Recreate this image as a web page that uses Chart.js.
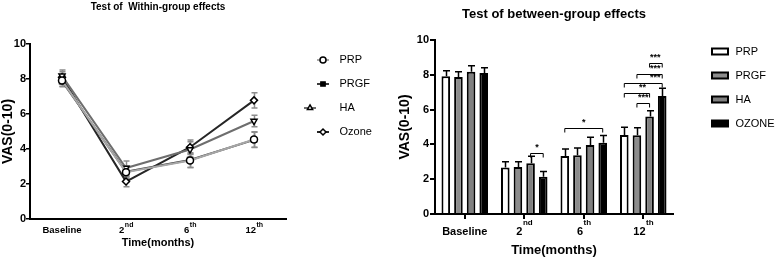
<!DOCTYPE html>
<html>
<head>
<meta charset="utf-8">
<script src="https://cdn.jsdelivr.net/npm/chart.js@4.4.1/dist/chart.umd.min.js"></script>
<style>
  html, body { margin: 0; padding: 0; background: #fff; overflow: hidden; width: 778px; height: 261px; }
  #left { position: absolute; left: 0; top: 0; }
  #right { position: absolute; left: 338px; top: 0; }
</style>
</head>
<body>
<canvas id="left" width="385" height="261"></canvas>
<canvas id="right" width="440" height="261"></canvas>
<script>
// datos
const categories = ['Baseline', '2', '6', '12'];
const catSup = ['', 'nd', 'th', 'th'];
const lineNames = ['PRP', 'PRGF', 'HA', 'Ozone'];
const barNames = ['PRP', 'PRGF', 'HA', 'OZONE'];

const prp = [7.91, 2.67, 3.34, 4.54];
const prgf = [7.87, 2.70, 3.37, 4.52];
const ha = [8.18, 2.91, 3.97, 5.60];
const ozone = [8.10, 2.14, 4.10, 6.78];

const prpErr = [0.32, 0.34, 0.39, 0.44];
const prgfErr = [0.31, 0.30, 0.42, 0.44];
const haErr = [0.34, 0.41, 0.44, 0.33];
const ozoneErr = [0.31, 0.30, 0.41, 0.44];

const yTicks = [0, 2, 4, 6, 8, 10];

// [categoria, desde serie, hasta serie, altura, texto, posicion del texto]
const sigBrackets = [
  [1, 2, 3, 3.52, '*', 'center'],
  [2, 0, 3, 4.92, '*', 'center'],
  [3, 1, 2, 6.40, '***', 'center'],
  [3, 0, 2, 6.94, '**', 'end'],
  [3, 0, 3, 7.51, '***', 'end'],
  [3, 1, 3, 8.05, '***', 'end'],
  [3, 2, 3, 8.66, '***', 'end']
];

const series = [prp, prgf, ha, ozone];
const seriesErr = [prpErr, prgfErr, haErr, ozoneErr];
const labels = categories.map((c, i) => c + catSup[i]);

const FONT = "'Liberation Sans', Arial, sans-serif";

// estilos
const lineColors = ['#a6a6a6', '#3c3c3c', '#6e6e6e', '#262626'];
const pointStyles = ['circle', 'rect', 'triangle', 'rectRot'];
const pointRot = [0, 0, 180, 0];
const pointFills = ['#fff', '#000', '#fff', '#fff'];
const barFills = ['#ffffff', '#8c8c8c', '#808080', '#000000'];

// ---------------------------
// plugins (config por closure)
// ---------------------------
function makeErrorBars(cfg) {
  function draw(chart) {
    const ctx = chart.ctx;
    const ys = chart.scales.y;
    ctx.save();
    ctx.strokeStyle = cfg.color;
    ctx.lineWidth = cfg.lineWidth;
    chart.data.datasets.forEach((ds, di) => {
      const meta = chart.getDatasetMeta(di);
      ds.data.forEach((v, i) => {
        const px = Math.round(meta.data[i].x) + 0.5;
        const top = ys.getPixelForValue(v + ds.errors[i]);
        const bot = ys.getPixelForValue(cfg.both ? v - ds.errors[i] : v);
        ctx.beginPath();
        ctx.moveTo(px, top);
        ctx.lineTo(px, bot);
        ctx.moveTo(px - cfg.cap, top);
        ctx.lineTo(px + cfg.cap, top);
        if (cfg.both) {
          ctx.moveTo(px - cfg.cap, bot);
          ctx.lineTo(px + cfg.cap, bot);
        }
        ctx.stroke();
      });
    });
    ctx.restore();
  }
  return {
    id: 'errorBars',
    beforeDatasetsDraw(chart) { if (cfg.under) draw(chart); },
    afterDatasetsDraw(chart) { if (!cfg.under) draw(chart); }
  };
}

// etiquetas del eje x con superindice (2nd, 6th, 12th)
function makeCatLabels(cfg) {
  return {
    id: 'catLabels',
    afterDraw(chart) {
      const ctx = chart.ctx;
      const xs = chart.scales.x;
      const mainFont = `bold ${cfg.size}px ${FONT}`;
      const supFont = `bold ${cfg.supSize}px ${FONT}`;
      ctx.save();
      ctx.fillStyle = '#000';
      ctx.textBaseline = 'alphabetic';
      ctx.textAlign = 'left';
      categories.forEach((c, i) => {
        const x = xs.getPixelForValue(i);
        ctx.font = mainFont;
        const w1 = ctx.measureText(c).width;
        ctx.font = supFont;
        const w2 = ctx.measureText(catSup[i]).width;
        const x0 = x - (w1 + w2) / 2;
        const y = xs.top + cfg.dy;
        ctx.font = mainFont;
        ctx.fillText(c, x0, y);
        ctx.font = supFont;
        ctx.fillText(catSup[i], x0 + w1 + 0.5, y - cfg.raise);
      });
      ctx.restore();
    }
  };
}

function makeBrackets(cfg) {
  return {
    id: 'brackets',
    afterDatasetsDraw(chart) {
      const ctx = chart.ctx;
      const ys = chart.scales.y;
      ctx.save();
      ctx.strokeStyle = '#000';
      ctx.fillStyle = '#000';
      ctx.lineWidth = 1;
      ctx.font = `bold ${cfg.size}px ${FONT}`;
      ctx.textAlign = 'center';
      ctx.textBaseline = 'bottom';
      sigBrackets.forEach(([cat, a, b, v, txt, where]) => {
        const x1 = chart.getDatasetMeta(a).data[cat].x;
        const x2 = chart.getDatasetMeta(b).data[cat].x;
        const py = Math.round(ys.getPixelForValue(v)) + 0.5;
        ctx.beginPath();
        ctx.moveTo(x1, py + cfg.tick);
        ctx.lineTo(x1, py);
        ctx.lineTo(x2, py);
        ctx.lineTo(x2, py + cfg.tick);
        ctx.stroke();
        const tx = where === 'end' ? x2 - 7 : (x1 + x2) / 2;
        ctx.fillText(txt, tx, py - 1);
      });
      ctx.restore();
    }
  };
}

// iconos de leyenda
function lineIcon(i) {
  const c = document.createElement('canvas');
  c.width = 35; c.height = 12;
  const g = c.getContext('2d');
  g.strokeStyle = lineColors[i];
  g.lineWidth = 2;
  g.beginPath(); g.moveTo(18, 6); g.lineTo(30, 6); g.stroke();
  g.strokeStyle = '#000';
  g.fillStyle = pointFills[i];
  g.lineWidth = 1.5;
  Chart.helpers.drawPoint(g, { pointStyle: pointStyles[i], rotation: pointRot[i], radius: 3, borderWidth: 1.5 }, 24, 6);
  return c;
}

function barIcon(i) {
  const c = document.createElement('canvas');
  c.width = 44; c.height = 10;
  const g = c.getContext('2d');
  g.fillStyle = barFills[i];
  g.strokeStyle = '#000';
  g.lineWidth = 2;
  g.fillRect(26, 2, 16, 6);
  g.strokeRect(26, 2, 16, 6);
  return c;
}

const lineIcons = lineNames.map((n, i) => lineIcon(i));
const barIcons = barNames.map((n, i) => barIcon(i));
const defaultLabels = Chart.defaults.plugins.legend.labels.generateLabels;

// ---------------------------
// GRAFICA IZQUIERDA (lineas)
// ---------------------------
new Chart(document.getElementById('left'), {
  type: 'line',
  data: {
    labels: labels,
    datasets: lineNames.map((n, i) => ({
      label: n,
      data: series[i],
      errors: seriesErr[i],
      borderColor: lineColors[i],
      borderWidth: 2,
      pointStyle: pointStyles[i],
      rotation: pointRot[i],
      pointRadius: 3.5,
      pointBackgroundColor: pointFills[i],
      pointBorderColor: '#000',
      pointBorderWidth: 1.5,
      tension: 0
    }))
  },
  options: {
    responsive: false,
    animation: false,
    devicePixelRatio: 1,
    layout: { padding: { right: 9 } },
    plugins: {
      title: {
        display: true, text: 'Test of  Within-group effects', fullSize: false, color: '#000',
        font: { family: FONT, size: 10, weight: 'bold' }, padding: { top: 1, bottom: 31 }
      },
      legend: {
        position: 'right', align: 'start', maxWidth: 90,
        title: { display: true, text: '', font: { size: 10 }, padding: { top: 29.5, bottom: 0 } },
        labels: {
          usePointStyle: true, pointStyleWidth: 35, boxHeight: 10, padding: 13, color: '#000',
          font: { family: FONT, size: 11 },
          generateLabels: (chart) => defaultLabels(chart).map((it, i) => ({ ...it, pointStyle: lineIcons[i] }))
        }
      },
      tooltip: { enabled: false }
    },
    scales: {
      x: {
        offset: true,
        grid: { display: false },
        border: { color: '#000', width: 2 },
        ticks: { display: false },
        title: {
          display: true, text: 'Time(months)', color: '#000',
          font: { family: FONT, size: 11, weight: 'bold' }, padding: { top: 0, bottom: 11 }
        },
        afterFit: (s) => { s.height = 42; }
      },
      y: {
        min: 0, max: 10,
        afterBuildTicks: (s) => { s.ticks = yTicks.map(v => ({ value: v })); },
        ticks: { color: '#000', padding: 0, font: { family: FONT, size: 11, weight: 'bold' } },
        grid: { drawOnChartArea: false, tickLength: 4, color: '#000', lineWidth: 1.5 },
        border: { color: '#000', width: 2 },
        title: {
          display: true, text: 'VAS(0-10)', color: '#000',
          font: { family: FONT, size: 14, weight: 'bold' }, padding: { top: 0, bottom: 0 }
        },
        afterFit: (s) => { s.width = 30; }
      }
    }
  },
  plugins: [
    makeErrorBars({ color: '#8c8c8c', lineWidth: 1.5, cap: 3, both: true, under: true }),
    makeCatLabels({ size: 9.5, supSize: 7, dy: 14, raise: 6 })
  ]
});

// ---------------------------
// GRAFICA DERECHA (barras)
// ---------------------------
new Chart(document.getElementById('right'), {
  type: 'bar',
  data: {
    labels: labels,
    datasets: barNames.map((n, i) => ({
      label: n,
      data: series[i],
      errors: seriesErr[i],
      backgroundColor: barFills[i],
      borderColor: '#000',
      borderWidth: 2,
      categoryPercentage: 0.85,
      barPercentage: 0.68
    }))
  },
  options: {
    responsive: false,
    animation: false,
    devicePixelRatio: 1,
    layout: { padding: 0 },
    plugins: {
      title: {
        display: true, text: 'Test of between-group effects', fullSize: false, color: '#000',
        font: { family: FONT, size: 13, weight: 'bold' }, padding: { top: 7, bottom: 17.4 }
      },
      legend: {
        position: 'right', align: 'start', maxWidth: 105,
        title: { display: true, text: '', font: { size: 10 }, padding: { top: 21, bottom: 0 } },
        labels: {
          usePointStyle: true, pointStyleWidth: 44, boxHeight: 10, padding: 13, color: '#000',
          font: { family: FONT, size: 11 },
          generateLabels: (chart) => defaultLabels(chart).map((it, i) => ({ ...it, pointStyle: barIcons[i] }))
        }
      },
      tooltip: { enabled: false }
    },
    scales: {
      x: {
        offset: true,
        grid: { display: true, drawOnChartArea: false, offset: false, tickLength: 5, color: '#000', lineWidth: 2 },
        border: { color: '#000', width: 2 },
        ticks: { display: false },
        title: {
          display: true, text: 'Time(months)', color: '#000',
          font: { family: FONT, size: 13, weight: 'bold' }, padding: { top: 0, bottom: 3 }
        },
        afterFit: (s) => { s.height = 47; }
      },
      y: {
        min: 0, max: 10,
        afterBuildTicks: (s) => { s.ticks = yTicks.map(v => ({ value: v })); },
        ticks: { color: '#000', padding: 1, font: { family: FONT, size: 11, weight: 'bold' } },
        grid: { drawOnChartArea: false, tickLength: 5, color: '#000', lineWidth: 2 },
        border: { color: '#000', width: 2 },
        title: {
          display: true, text: 'VAS(0-10)', color: '#000',
          font: { family: FONT, size: 14, weight: 'bold' }, padding: { top: 58.5, bottom: 0 }
        },
        afterFit: (s) => { s.width = 97; }
      }
    }
  },
  plugins: [
    makeErrorBars({ color: '#000', lineWidth: 1.5, cap: 3.5, both: false, under: false }),
    makeCatLabels({ size: 11, supSize: 8, dy: 21, raise: 10 }),
    makeBrackets({ size: 9, tick: 4 })
  ]
});
</script>
</body>
</html>
